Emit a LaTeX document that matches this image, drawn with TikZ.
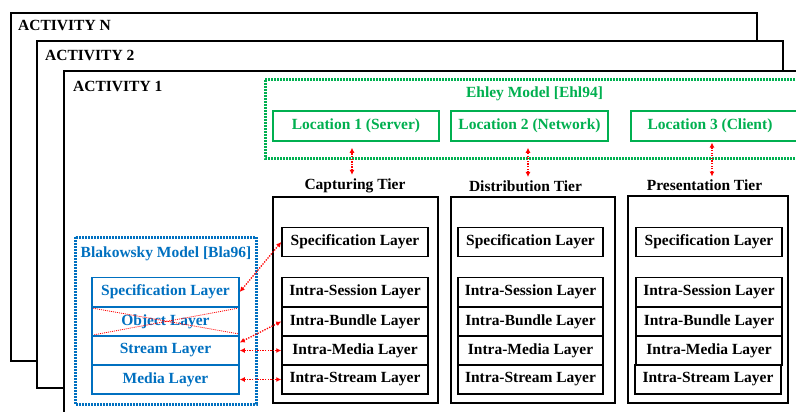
\documentclass[tikz,border=0pt]{standalone}
\usepackage{fontspec}
\setmainfont{Liberation Serif}
\usetikzlibrary{arrows.meta}

\definecolor{ehley}{HTML}{00B050}
\definecolor{blak}{HTML}{0070C0}

\tikzset{
  activity/.style={draw, fill=white, line width=1.5pt},
  tier/.style={draw, line width=1.5pt},
  layer/.style={draw, line width=1.5pt, minimum width=146pt, minimum height=29pt, inner sep=0pt},
  blayer/.style={layer, draw=blak, text=blak, minimum width=147pt},
  location/.style={draw=ehley, text=ehley, line width=1.5pt, minimum height=30pt, inner sep=0pt},
  link/.style={red, line width=1.3pt, dash pattern=on 1.3pt off 1.3pt, {Latex[length=5pt,width=5pt]}-{Latex[length=5pt,width=5pt]}},
}

\begin{document}
\begin{tikzpicture}[x=1pt, y=-1pt, font=\fontsize{15.5}{17}\selectfont\bfseries]
  \clip (0,0) rectangle (796,412);

  % activities, back to front
  \draw [activity] (11,13) rectangle (757,361);
  \node [anchor=west, inner sep=0pt] (actN) at (18,25) {ACTIVITY N};
  \draw [activity] (37,41) rectangle (783,388);
  \node [anchor=west, inner sep=0pt] (act2) at (45,55) {ACTIVITY 2};
  \draw [activity] (64,71) rectangle (812,420);
  \node [anchor=west, inner sep=0pt] (act1) at (73,86) {ACTIVITY 1};

  % Ehley model
  \draw [ehley, line width=3pt, dash pattern=on 2pt off 1pt] (265,80) rectangle (812,158);
  \node [text=ehley] (ehl) at (534.5,94) {Ehley Model [Ehl94]};
  \node [location, minimum width=166pt] (loc1) at (356,126) {Location 1 (Server)};
  \node [location, minimum width=157pt] (loc2) at (529.5,126) {Location 2 (Network)};
  \draw [ehley, line width=1.5pt] (830,111) -| (631,141) -- (830,141);
  \node [text=ehley] (loc3) at (710,126) {Location 3 (Client)};

  % tiers
  \node (capl) at (355,185.5) {Capturing Tier};
  \node (disl) at (525.5,186) {Distribution Tier};
  \node (presl) at (704.5,185.5) {Presentation Tier};
  \draw [tier] (273,197) rectangle (438,403);
  \draw [tier] (451,197) rectangle (615,403);
  \draw [tier] (628,196) rectangle (788,403);

  \node [layer] (cspec) at (355,242) {Specification Layer};
  \node [layer] (csess) at (355,292) {Intra-Session Layer};
  \node [layer] (cbund) at (355,321.5) {Intra-Bundle Layer};
  \node [layer] (cmed) at (355,350.5) {Intra-Media Layer};
  \node [layer] (cstr) at (355,379.5) {Intra-Stream Layer};

  \node [layer, minimum width=145pt] (dspec) at (530.5,242) {Specification Layer};
  \node [layer, minimum width=145pt] (dsess) at (530.5,292) {Intra-Session Layer};
  \node [layer, minimum width=145pt] (dbund) at (530.5,321.5) {Intra-Bundle Layer};
  \node [layer, minimum width=145pt] (dmed) at (530.5,350.5) {Intra-Media Layer};
  \node [layer, minimum width=145pt] (dstr) at (530.5,379.5) {Intra-Stream Layer};

  \node [layer] (pspec) at (709,242) {Specification Layer};
  \node [layer] (psess) at (709,292) {Intra-Session Layer};
  \node [layer] (pbund) at (709,321.5) {Intra-Bundle Layer};
  \node [layer] (pmed) at (709,350.5) {Intra-Media Layer};
  \node [layer] (pstr) at (708,379.5) {Intra-Stream Layer};

  % Blakowsky model
  \draw [blak, line width=3pt, dash pattern=on 2pt off 1pt] (75,237) rectangle (256,404);
  \node [text=blak] (bla) at (166,254) {Blakowsky Model [Bla96]};
  \node [blayer] (bspec) at (165.5,292) {Specification Layer};
  \node [blayer] (bobj) at (165.5,321.5) {Object Layer};
  \node [blayer] (bstream) at (165.5,350.5) {Stream Layer};
  \node [blayer] (bmedia) at (165.5,379.5) {Media Layer};
  \draw [red, line width=0.8pt, dash pattern=on 1pt off 1pt]
    ([shift={(2pt,-2pt)}]bobj.north west) -- ([shift={(-2pt,3pt)}]bobj.south east)
    ([shift={(3pt,2pt)}]bobj.south west) -- ([shift={(-2pt,-2pt)}]bobj.north east);

  % links
  \draw [link, shorten >=6pt] ([xshift=-3pt]capl.north) -- ([xshift=-3pt]capl.north |- loc1.south);
  \draw [link, shorten >=6pt] ([xshift=2.5pt]disl.north) -- ([xshift=2.5pt]disl.north |- loc2.south);
  \draw [link, shorten >=6pt] ([xshift=7.5pt]presl.north) -- ([xshift=7.5pt]presl.north |- loc3.south);

  \draw [link] (cspec.west) -- (bspec.east);
  \draw [link] (cbund.west) -- ([yshift=8pt]bstream.east);
  \draw [link] (cmed.west) -- (bstream.east);
  \draw [link] (cstr.west) -- (bmedia.east);
\end{tikzpicture}
\end{document}
